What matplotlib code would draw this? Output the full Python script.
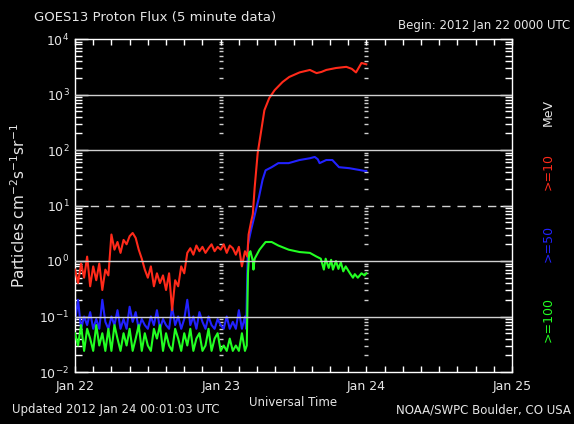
import numpy as np
import matplotlib.pyplot as plt
from matplotlib.ticker import FixedLocator, NullFormatter, LogFormatterMathtext

# ---------------- data (hours since 2012 Jan 22 00:00 UTC) ----------------
quiet_hours = np.arange(0, 28.5, 0.5)

red_quiet = [0.7, 0.4, 0.9, 0.5, 1.2, 0.35, 0.8, 0.45, 0.9, 0.3, 0.7, 0.55,
             3.0, 1.6, 2.2, 1.4, 2.4, 2.0, 2.8, 3.2, 2.6, 1.6, 1.1, 0.7,
             0.5, 0.8, 0.35, 0.6, 0.4, 0.55, 0.3, 0.6, 0.13, 0.45, 0.35, 0.8,
             0.6, 1.4, 1.7, 1.3, 1.9, 1.5, 1.8, 1.4, 1.7, 2.0, 1.5, 1.8,
             1.6, 2.0, 1.4, 1.9, 1.7, 1.3, 1.8, 0.8, 1.5]
blue_quiet = [0.08, 0.2, 0.06, 0.1, 0.07, 0.12, 0.06, 0.09, 0.06, 0.2, 0.08, 0.06,
              0.1, 0.07, 0.13, 0.06, 0.09, 0.06, 0.15, 0.08, 0.12, 0.06, 0.09, 0.07,
              0.06, 0.1, 0.07, 0.13, 0.06, 0.09, 0.07, 0.06, 0.15, 0.07, 0.1, 0.06,
              0.09, 0.2, 0.07, 0.1, 0.06, 0.12, 0.08, 0.06, 0.1, 0.07, 0.06, 0.09,
              0.07, 0.06, 0.1, 0.06, 0.08, 0.06, 0.13, 0.06, 0.1]
green_quiet = [0.05, 0.03, 0.07, 0.024, 0.06, 0.04, 0.024, 0.07, 0.03, 0.05, 0.024, 0.06,
               0.024, 0.07, 0.04, 0.024, 0.05, 0.03, 0.06, 0.024, 0.04, 0.07, 0.024, 0.05,
               0.03, 0.024, 0.06, 0.04, 0.07, 0.024, 0.05, 0.03, 0.024, 0.06, 0.04, 0.024,
               0.05, 0.03, 0.06, 0.024, 0.04, 0.05, 0.024, 0.03, 0.06, 0.024, 0.04, 0.05,
               0.024, 0.03, 0.024, 0.04, 0.024, 0.03, 0.024, 0.05, 0.024]

red_event_hours = [28.4, 28.6, 29.0, 29.3, 29.6, 30.1, 30.7, 31.2, 32.0, 32.9, 34.2,
                   35.3, 37.0, 38.7, 39.8, 40.6, 41.4, 43.0, 44.7, 45.6, 46.3, 47.2, 48.0]
red_event = [1.2, 3, 5, 7, 21, 88, 230, 520, 860, 1200, 1680,
             2070, 2500, 2770, 2430, 2550, 2770, 3000, 3150, 2900, 2500, 3700, 3500]

blue_event_hours = [28.2, 28.5, 29.0, 29.5, 30.3, 30.9, 31.4, 32.4, 33.5, 35.2, 37.0,
                    38.7, 39.5, 40.0, 40.3, 41.4, 42.4, 43.5, 45.2, 47.7, 48.0]
blue_event = [0.06, 2.0, 3.6, 6, 14, 29, 43, 49, 58, 58, 66,
              71, 75, 68, 58, 66, 66, 49, 47, 42, 42]

green_event_hours = [28.3, 28.5, 28.7, 28.9, 29.3, 29.4, 29.6, 30.4, 31.4, 32.4, 33.5,
                     35.2, 37.0, 38.7, 39.8, 40.5, 41.0, 41.3, 41.8, 42.2, 42.5, 43.0,
                     43.4, 43.8, 44.2, 44.6, 45.3, 45.8, 46.1, 46.6, 47.2, 47.7, 48.0]
green_event = [0.03, 0.6, 1.4, 1.5, 1.0, 0.7, 1.1, 1.6, 2.2, 2.2, 1.9,
               1.6, 1.45, 1.4, 1.2, 1.1, 0.7, 1.1, 0.75, 1.05, 0.7, 1.0,
               0.72, 0.95, 0.65, 0.8, 0.6, 0.5, 0.58, 0.5, 0.6, 0.55, 0.6]

day_hours = [0, 24, 48, 72]
day_labels = ["Jan 22", "Jan 23", "Jan 24", "Jan 25"]
decades = [1e-2, 1e-1, 1e0, 1e1, 1e2, 1e3, 1e4]
grid_levels = [1e3, 1e2, 1e0, 1e-1]
dashed_level = 1e1

RED = '#ff2a1a'
BLUE = '#2222ff'
GREEN = '#22ff22'
FG = '#e6e6e6'

plt.rcParams['font.family'] = 'DejaVu Sans'

fig = plt.figure(figsize=(5.74, 4.24), dpi=100, facecolor='black')
ax = fig.add_axes([75 / 574, 1 - 372 / 424, 437 / 574, 333 / 424], facecolor='black')

ax.plot(np.concatenate([quiet_hours, red_event_hours]), red_quiet + red_event,
        color=RED, lw=1.5, zorder=3)
ax.plot(np.concatenate([quiet_hours, blue_event_hours]), blue_quiet + blue_event,
        color=BLUE, lw=1.5, zorder=2)
ax.plot(np.concatenate([quiet_hours, green_event_hours]), green_quiet + green_event,
        color=GREEN, lw=1.5, zorder=4)

for lev in grid_levels:
    ax.axhline(lev, color='#d0d0d0', lw=1.0, zorder=5)
ax.axhline(dashed_level, color='#d0d0d0', lw=1.0, ls=(0, (6, 5)), zorder=5)

ax.set_yscale('log')
ax.set_ylim(1e-2, 1e4)
ax.set_xlim(0, 72)

# minor y marks drawn along the Jan 23 / Jan 24 lines
minor_y = [m * d for d in decades[:-1] for m in range(2, 10)]
for d in day_hours[1:3]:
    ax.plot([d] * len(minor_y), minor_y, ls='none', marker='_', ms=3,
            mew=1, color='#d0d0d0', zorder=1)

ax.xaxis.set_major_locator(FixedLocator(day_hours))
ax.xaxis.set_minor_locator(FixedLocator(np.arange(0, 73, 3)))
ax.set_xticklabels(day_labels)
ax.yaxis.set_major_locator(FixedLocator(decades))
ax.yaxis.set_major_formatter(LogFormatterMathtext())
ax.yaxis.set_minor_locator(FixedLocator(minor_y))
ax.yaxis.set_minor_formatter(NullFormatter())

ax.tick_params(which='both', direction='in', top=True, right=True,
               colors='white', labelcolor=FG, labelsize=9, width=1)
ax.tick_params(axis='x', which='major', length=4, pad=6)
ax.tick_params(axis='x', which='minor', length=4)
ax.tick_params(axis='y', which='major', length=9, pad=4)
ax.tick_params(axis='y', which='minor', length=5)
for s in ax.spines.values():
    s.set_color('white')
    s.set_linewidth(1)

ax.set_xlabel('Universal Time', color=FG, fontsize=8.5, labelpad=2)
ax.set_ylabel('Particles cm$^{-2}$s$^{-1}$sr$^{-1}$', color=FG, fontsize=11, labelpad=8)

fig.text(34 / 574, 1 - 18 / 424, 'GOES13 Proton Flux (5 minute data)', color=FG,
         fontsize=9.5, ha='left', va='center')
fig.text(570 / 574, 1 - 25 / 424, 'Begin: 2012 Jan 22 0000 UTC', color=FG,
         fontsize=8.5, ha='right', va='center')
fig.text(12 / 574, 1 - 410 / 424, 'Updated 2012 Jan 24 00:01:03 UTC', color=FG,
         fontsize=8.5, ha='left', va='center')
fig.text(571 / 574, 1 - 410 / 424, 'NOAA/SWPC Boulder, CO USA', color=FG,
         fontsize=8.5, ha='right', va='center')

fig.text(548 / 574, 1 - 112 / 424, 'MeV', color=FG, fontsize=9, rotation=90,
         ha='center', va='center')
fig.text(548 / 574, 1 - 172 / 424, '>=10', color=RED, fontsize=9, rotation=90,
         ha='center', va='center')
fig.text(548 / 574, 1 - 243 / 424, '>=50', color=BLUE, fontsize=9, rotation=90,
         ha='center', va='center')
fig.text(548 / 574, 1 - 320 / 424, '>=100', color=GREEN, fontsize=9, rotation=90,
         ha='center', va='center')

fig.savefig('out.png', dpi=100, facecolor='black')
